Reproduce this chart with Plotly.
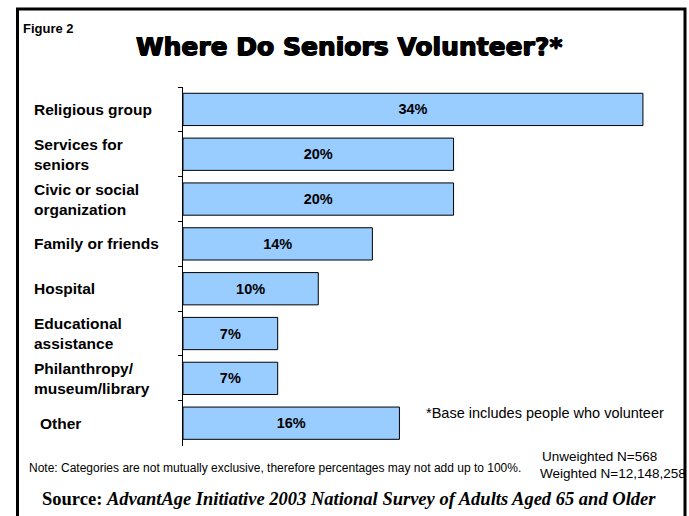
import plotly.graph_objects as go

# Volunteer locations and share of senior volunteers (%)
categories = [
    "Religious group",
    "Services for<br>seniors",
    "Civic or social<br>organization",
    "Family or friends",
    "Hospital",
    "Educational<br>assistance",
    "Philanthropy/<br>museum/library",
    "Other",
]
values = [34, 20, 20, 14, 10, 7, 7, 16]
value_labels = [f"{v}%" for v in values]

W, H = 689, 516
ids = [f"c{i}" for i in range(len(categories))]

fig = go.Figure(
    go.Bar(
        x=values,
        y=ids,
        orientation="h",
        marker=dict(color="#99CCFF", line=dict(color="black", width=1)),
        text=value_labels,
        textposition="inside",
        insidetextanchor="middle",
        textfont=dict(family="Liberation Sans", size=14.5, color="black", weight="bold"),
        width=0.72,
        hoverinfo="skip",
    )
)

# category labels, left aligned in the margin
annotations = []
for cid, lab in zip(ids, categories):
    annotations.append(dict(
        x=32 / W if lab != "Other" else 38 / W, xref="paper", xanchor="left",
        y=cid, yref="y", yanchor="middle",
        text=f"<b>{lab}</b>", showarrow=False, align="left",
        font=dict(family="Liberation Sans", size=15.5, color="black"),
    ))

def txt(x, y, text, size, xanchor="left", family="Liberation Sans", **kw):
    annotations.append(dict(
        x=x / W, y=1 - y / H, xref="paper", yref="paper",
        xanchor=xanchor, yanchor="middle", text=text, showarrow=False,
        font=dict(family=family, size=size, color="black", **kw)))

txt(21, 29, "<b>Figure 2</b>", 13)
txt(349, 47, "<b>Where Do Seniors Volunteer?*</b>", 25, xanchor="center", family="DejaVu Sans",
    shadow="0.7px 0 0 black, -0.7px 0 0 black, 0 0.5px 0 black")
txt(424, 413, "*Base includes people who volunteer", 14.5)
txt(27, 468, "Note: Categories are not mutually exclusive, therefore percentages may not add up to 100%.", 12)
txt(540, 456, "Unweighted N=568", 13.5)
txt(538, 473, "Weighted N=12,148,258", 13.5)
txt(349, 499, "<b>Source: </b><b><i>AdvantAge Initiative 2003 National Survey of Adults Aged 65 and Older</i></b>",
    18.5, xanchor="center", family="Liberation Serif")

fig.update_layout(
    width=W, height=H,
    margin=dict(l=0, r=0, t=0, b=0),
    paper_bgcolor="white", plot_bgcolor="white",
    showlegend=False,
    annotations=annotations,
    xaxis=dict(domain=[183 / W, 670 / W], range=[0, 36], visible=False, fixedrange=True),
    yaxis=dict(
        domain=[1 - 445.6 / H, 1 - 87 / H],
        autorange="reversed",
        showline=True, linecolor="black", linewidth=1,
        ticks="outside", ticklen=4, tickcolor="black", tickson="boundaries",
        showticklabels=False, showgrid=False, zeroline=False,
    ),
    shapes=[dict(
        type="rect", xref="paper", yref="paper",
        x0=17.5 / W, x1=685 / W, y0=-0.02, y1=1 - 9 / H,
        line=dict(color="black", width=3),
    )],
)

fig.write_html("out.html")
